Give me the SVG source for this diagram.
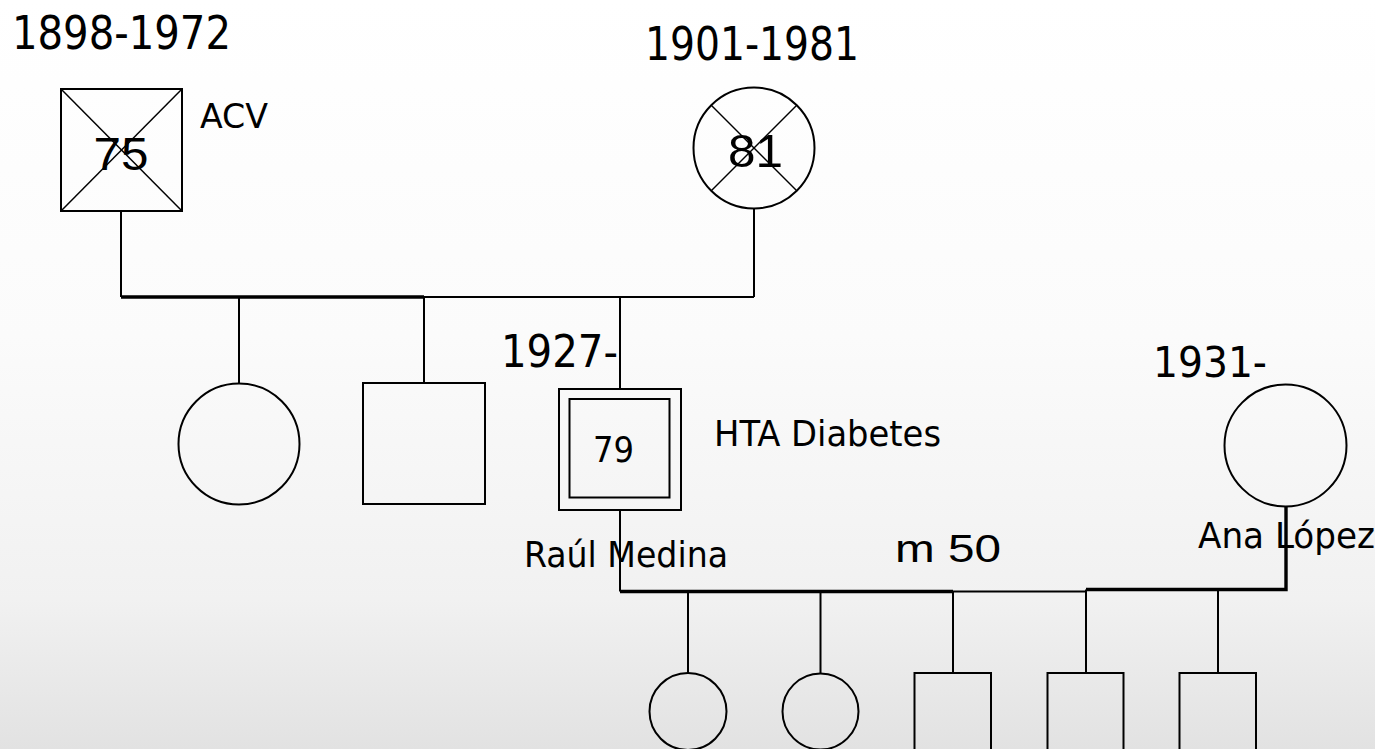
<svg xmlns="http://www.w3.org/2000/svg" width="1375" height="749" viewBox="0 0 1375 749">
<defs>
<linearGradient id="bg" x1="0" y1="0" x2="0" y2="1">
<stop offset="0" stop-color="#ffffff"/>
<stop offset="0.45" stop-color="#fbfbfb"/>
<stop offset="0.8" stop-color="#f1f1f1"/>
<stop offset="1" stop-color="#e2e2e2"/>
</linearGradient>
<style>
.s{fill:none;stroke:#000;stroke-width:2}
.l{fill:none;stroke:#000;stroke-width:2}
.t{fill:none;stroke:#000;stroke-width:3.4}
.d{fill:none;stroke:#000;stroke-width:1.5}
.lab{font-family:"DejaVu Sans Condensed","DejaVu Sans",sans-serif;font-stretch:condensed;fill:#000}
.num{font-family:"Liberation Sans",Arial,sans-serif;fill:#000}
</style>
</defs>
<rect x="0" y="0" width="1375" height="749" fill="url(#bg)"/>

<g id="connectors">
<line class="l" x1="121" y1="211" x2="121" y2="297"/>
<line class="l" x1="754" y1="208" x2="754" y2="297"/>
<line class="l" x1="424" y1="297" x2="754" y2="297"/>
<line class="t" x1="121" y1="297" x2="424" y2="297"/>
<line class="l" x1="239" y1="297" x2="239" y2="383"/>
<line class="l" x1="424" y1="297" x2="424" y2="383"/>
<line class="l" x1="620" y1="297" x2="620" y2="389"/>
<line class="l" x1="620" y1="510" x2="620" y2="591.5"/>
<line class="t" x1="620" y1="591.5" x2="953" y2="591.5"/>
<line class="l" x1="953" y1="591.5" x2="1086" y2="591.5"/>
<polyline class="t" points="1086,589.5 1286,589.5 1286,506"/>
<line class="l" x1="1086" y1="589.5" x2="1086" y2="673"/>
<line class="l" x1="688" y1="591.5" x2="688" y2="673"/>
<line class="l" x1="820.5" y1="591.5" x2="820.5" y2="673"/>
<line class="l" x1="953" y1="591.5" x2="953" y2="673"/>
<line class="l" x1="1218" y1="589.5" x2="1218" y2="673"/>
</g>

<g id="grandfather">
<rect class="s" x="61" y="89" width="121" height="122"/>
<line class="d" x1="61" y1="89" x2="182" y2="211"/>
<line class="d" x1="182" y1="89" x2="61" y2="211"/>
<text class="num" x="93.5" y="170" font-size="46" textLength="55" lengthAdjust="spacingAndGlyphs">75</text>
<text class="lab" x="12" y="49" font-size="47" textLength="219" lengthAdjust="spacingAndGlyphs">1898-1972</text>
<text class="lab" x="200" y="128" font-size="34" textLength="68" lengthAdjust="spacingAndGlyphs">ACV</text>
</g>

<g id="grandmother">
<circle class="s" cx="754" cy="148" r="60.5"/>
<line class="d" x1="711.5" y1="105.5" x2="796.5" y2="190.5"/>
<line class="d" x1="796.5" y1="105.5" x2="711.5" y2="190.5"/>
<text class="num" x="728" y="167" font-size="47" textLength="55" lengthAdjust="spacingAndGlyphs">81</text>
<text class="lab" x="645" y="60" font-size="47" textLength="214" lengthAdjust="spacingAndGlyphs">1901-1981</text>
</g>

<g id="aunt">
<circle class="s" cx="239" cy="444" r="60.5"/>
</g>

<g id="uncle">
<rect class="s" x="363" y="383" width="122" height="121"/>
</g>

<g id="raul">
<rect class="s" x="559" y="389" width="122" height="121"/>
<rect class="s" x="569.5" y="399" width="100" height="98.5"/>
<text class="lab" x="593" y="462" font-size="35" textLength="41" lengthAdjust="spacingAndGlyphs">79</text>
<text class="lab" x="501" y="367" font-size="44" textLength="117" lengthAdjust="spacingAndGlyphs">1927-</text>
<text class="lab" x="714" y="446" font-size="36" textLength="227" lengthAdjust="spacingAndGlyphs">HTA Diabetes</text>
<text class="lab" x="524" y="567" font-size="35" textLength="204" lengthAdjust="spacingAndGlyphs">Raúl Medina</text>
</g>

<g id="ana">
<circle class="s" cx="1285.5" cy="445.5" r="61"/>
<text class="lab" x="1153" y="377" font-size="42" textLength="114" lengthAdjust="spacingAndGlyphs">1931-</text>
<text class="lab" x="1198" y="548" font-size="35" textLength="177" lengthAdjust="spacingAndGlyphs">Ana López</text>
</g>

<g id="marriage-label">
<text class="num" x="895" y="562" font-size="38" textLength="106" lengthAdjust="spacingAndGlyphs">m 50</text>
</g>

<g id="child1"><circle class="s" cx="688" cy="711.5" r="38.5"/></g>
<g id="child2"><circle class="s" cx="820.5" cy="711.5" r="38"/></g>
<g id="child3"><rect class="s" x="914.5" y="673" width="76.5" height="80"/></g>
<g id="child4"><rect class="s" x="1047.5" y="673" width="76" height="80"/></g>
<g id="child5"><rect class="s" x="1179.5" y="673" width="76.5" height="80"/></g>
</svg>
